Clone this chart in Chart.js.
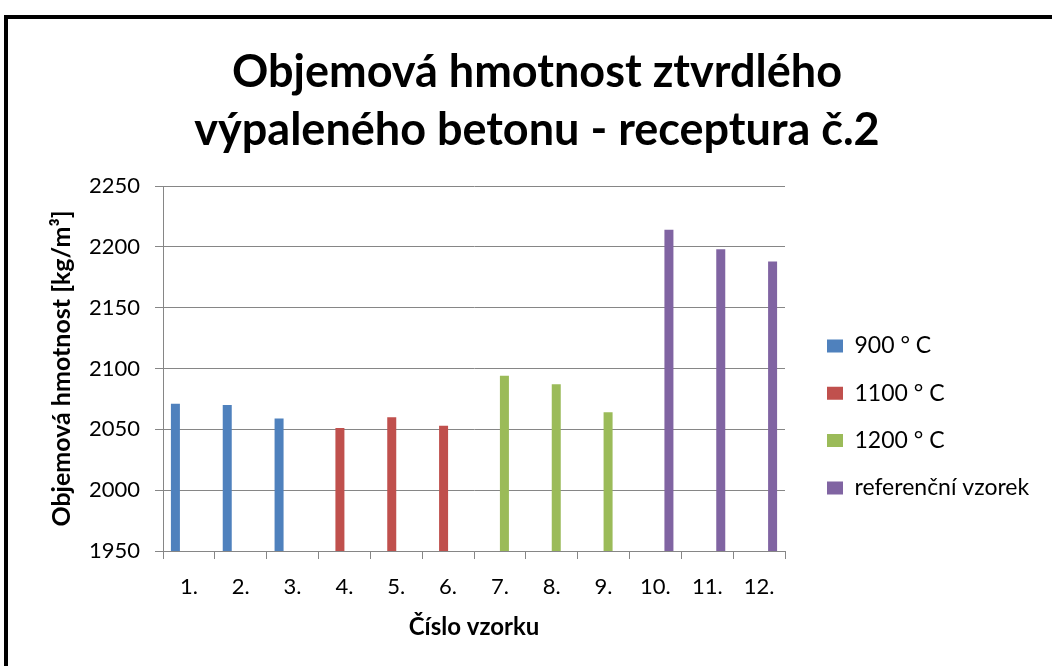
<!DOCTYPE html>
<html><head><meta charset="utf-8">
<script src="https://cdn.jsdelivr.net/npm/chart.js@4/dist/chart.umd.min.js"></script>
<style>
html,body{margin:0;padding:0;background:#fff;width:1052px;height:666px;overflow:hidden;}
#frame{position:absolute;left:4px;top:15px;width:1200px;height:800px;border:4px solid #000;box-sizing:border-box;}
#wrap{position:absolute;left:0;top:0;width:1052px;height:666px;}
</style></head><body>
<div id="frame"></div>
<div id="wrap"><canvas id="c" width="1052" height="666"></canvas></div>
<script>
const categories = ['1.','2.','3.','4.','5.','6.','7.','8.','9.','10.','11.','12.'];
const series900  = [2071, 2070, 2059, null, null, null, null, null, null, null, null, null];
const series1100 = [null, null, null, 2051, 2060, 2053, null, null, null, null, null, null];
const series1200 = [null, null, null, null, null, null, 2094, 2087, 2064, null, null, null];
const seriesRef  = [null, null, null, null, null, null, null, null, null, 2214, 2198, 2188];
const seriesNames = ['900 ° C', '1100 ° C', '1200 ° C', 'referenční vzorek'];
const titleLines = ['Objemová hmotnost ztvrdlého', 'výpaleného betonu - receptura č.2'];
const yTitle = 'Objemová hmotnost [kg/m³]';
const xTitle = 'Číslo vzorku';
const yMin = 1950, yMax = 2250, yStep = 50;

Chart.defaults.font.family = 'Lato';
Chart.defaults.color = '#000';

const gridColor = '#868686';

const layoutFix = {
  id: 'layoutFix',
  beforeLayout(chart) {
    const lg = chart.legend;
    if (lg && !lg._patched) {
      const orig = lg.fit;
      lg.fit = function () { orig.call(this); this.width = 267; };
      lg._patched = true;
    }
  },
  afterLayout(chart) {
    const lg = chart.legend;
    if (lg) {
      const w = lg.right - lg.left;
      lg.left = 802.7; lg.right = 802.7 + w;
      const h = lg.bottom - lg.top;
      lg.top = 310.2; lg.bottom = 310.2 + h;
    }
  }
};

new Chart(document.getElementById('c'), {
  type: 'bar',
  data: {
    labels: categories,
    datasets: [
      { label: seriesNames[0], data: series900,  backgroundColor: '#4F81BD' },
      { label: seriesNames[1], data: series1100, backgroundColor: '#C0504D' },
      { label: seriesNames[2], data: series1200, backgroundColor: '#9BBB59' },
      { label: seriesNames[3], data: seriesRef,  backgroundColor: '#8064A2' }
    ]
  },
  options: {
    responsive: false,
    animation: false,
    datasets: { bar: { categoryPercentage: 0.695, barPercentage: 1.0, borderWidth: 0 } },
    layout: { padding: { left: 22, right: 0, top: 0, bottom: 0 } },
    plugins: {
      tooltip: { enabled: false },
      title: {
        display: true,
        text: titleLines,
        color: '#000',
        font: { family: 'Lato', size: 45, weight: 'bold', lineHeight: 1.289 },
        padding: { top: 43, bottom: 27 }
      },
      legend: {
        display: true,
        position: 'right',
        align: 'start',
        labels: {
          boxWidth: 16, boxHeight: 13, padding: 24.3,
          color: '#000',
          font: { family: 'Lato', size: 23 }
        }
      }
    },
    scales: {
      x: {
        offset: true,
        grid: { offset: true, drawOnChartArea: false, drawTicks: true, tickLength: 8, color: gridColor, lineWidth: 1 },
        border: { display: true, color: gridColor, width: 1 },
        ticks: { font: { size: 22 }, padding: 15, color: '#000', maxRotation: 0 },
        title: { display: true, text: xTitle, font: { size: 24, weight: 'bold' }, padding: { top: 12, bottom: 24.6 }, color: '#000' },
        afterFit(s) { s.height = 115; }
      },
      y: {
        min: yMin, max: yMax,
        ticks: { stepSize: yStep, font: { size: 22 }, padding: 15, color: '#000', callback: (v) => String(v) },
        grid: { drawTicks: true, tickLength: 8, color: gridColor, lineWidth: 1 },
        border: { display: true, color: gridColor, width: 1 },
        title: { display: true, text: yTitle, font: { size: 25, weight: 'bold' }, padding: { top: 25, bottom: 10 }, color: '#000' },
        afterFit(s) { s.width = 141; }
      }
    }
  },
  plugins: [layoutFix]
});
</script>
</body></html>
